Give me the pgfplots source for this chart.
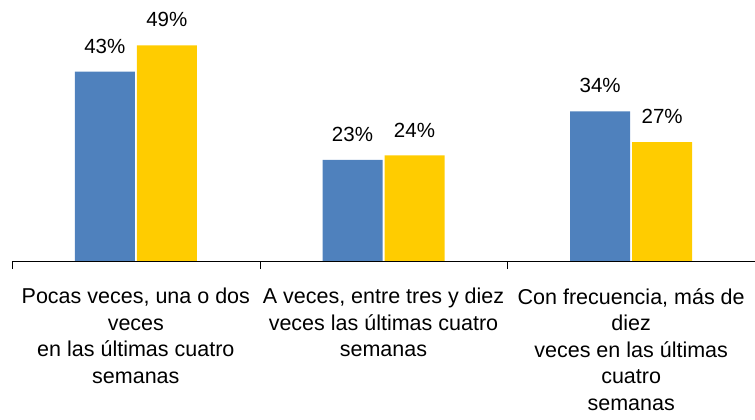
\documentclass[border=0pt]{standalone}
\usepackage{pgfplots}
\pgfplotsset{compat=1.18}
\usepackage{fontspec}
\setmainfont{Liberation Sans}
\definecolor{cblue}{HTML}{4F81BD}
\definecolor{cyellow}{HTML}{FFCC00}
\begin{document}
\begin{tikzpicture}
\begin{axis}[
  scale only axis,
  width=743pt, height=261pt,
  at={(0,0)}, anchor=south west,
  xmin=-0.5, xmax=2.5,
  ymin=0, ymax=59.3,
  axis x line*=bottom,
  axis line style={-, black},
  hide y axis,
  xtick={0,1,2},
  xticklabels={
    {Pocas veces, una o dos\\veces\\en las últimas cuatro\\semanas},
    {A veces, entre tres y diez\\veces las últimas cuatro\\semanas},
    {Con frecuencia, más de\\diez\\veces en las últimas\\cuatro\\semanas}},
  xticklabel style={align=center, font=\fontsize{21.5}{26.5}\selectfont, anchor=north, yshift=-27pt, inner sep=0pt},
  major tick length=0pt,
  extra x ticks={-0.5,0.5,1.5},
  extra x tick labels={},
  extra x tick style={major tick length=8pt, tick align=outside, tick pos=bottom, tick style={black}},
  ybar,
  bar width=60pt,
  /pgf/number format/assume math mode=true,
  nodes near coords={\pgfmathprintnumber{\pgfplotspointmeta}\%},
  every node near coord/.append style={font=\fontsize{20.5}{24}\selectfont, inner sep=0pt, anchor=south, yshift=18pt, black},
  clip=false,
]
\addplot[fill=cblue, draw=none, bar shift=-31pt] coordinates {(0,43) (1,23) (2,34)};
\addplot[fill=cyellow, draw=none, bar shift=31pt] coordinates {(0,49) (1,24) (2,27)};
\end{axis}
\pgfresetboundingbox
\useasboundingbox (-12pt,-159pt) rectangle (743pt,261pt);
\end{tikzpicture}
\end{document}
